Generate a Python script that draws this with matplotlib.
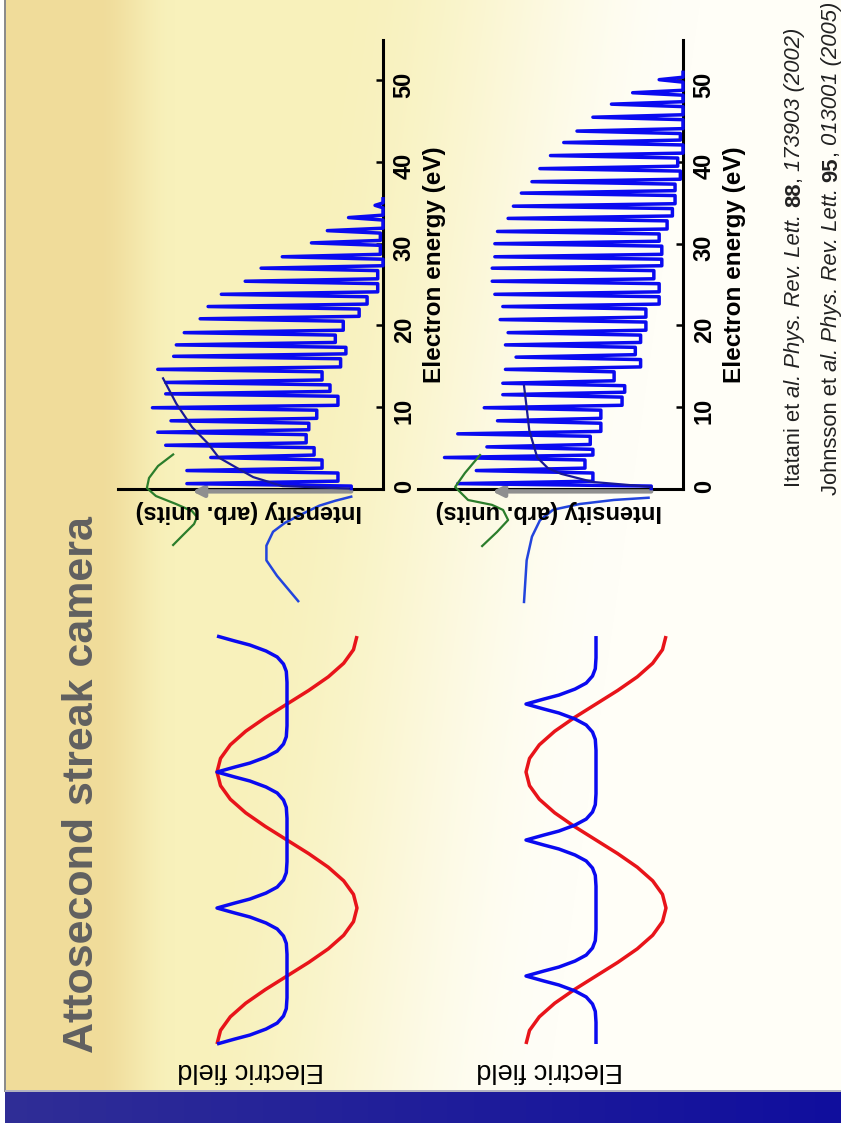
import numpy as np
import matplotlib
matplotlib.use("Agg")
import matplotlib.pyplot as plt

plt.rcParams['font.family'] = ['Liberation Sans', 'DejaVu Sans']

# ---------------- data ----------------
title = "Attosecond streak camera"
field_label = "Electric field"
intensity_label = "Intensity (arb. units)"
energy_label = "Electron energy (eV)"
energy_ticks = [0, 10, 20, 30, 40, 50]
# citations as (text, style, weight) pieces
cite1 = [("Itatani et ", "normal", "normal"), ("al. Phys. Rev. Lett. ", "italic", "normal"),
         ("88", "normal", "bold"), (", ", "normal", "normal"), ("173903 (2002)", "italic", "normal")]
cite2 = [("Johnsson et ", "normal", "normal"), ("al. Phys. Rev. Lett. ", "italic", "normal"),
         ("95", "normal", "bold"), (", ", "normal", "normal"), ("013001 (2005)", "italic", "normal")]

# streaking (IR) field, time in optical cycles, field normalised
ir_time = [0.00, 0.05, 0.10, 0.15, 0.20, 0.25, 0.30, 0.35, 0.40, 0.45, 0.50,
           0.55, 0.60, 0.65, 0.70, 0.75, 0.80, 0.85, 0.90, 0.95, 1.00,
           1.05, 1.10, 1.15, 1.20, 1.25, 1.30, 1.35, 1.40, 1.45, 1.50]
ir_field = [1.00, 0.95, 0.81, 0.59, 0.31, 0.00, -0.31, -0.59, -0.81, -0.95, -1.00,
            -0.95, -0.81, -0.59, -0.31, 0.00, 0.31, 0.59, 0.81, 0.95, 1.00,
            0.95, 0.81, 0.59, 0.31, 0.00, -0.31, -0.59, -0.81, -0.95, -1.00]
# attosecond pulse profile (offset from pulse centre in cycles, amplitude)
pulse_offset = [0.000, 0.018, 0.033, 0.055, 0.077, 0.103, 0.130, 0.170]
pulse_amp = [1.00, 0.75, 0.53, 0.30, 0.14, 0.05, 0.01, 0.00]
pulses_top = [0.0, 0.5, 1.0, 1.5]        # pulses at field crests
pulses_bottom = [0.25, 0.75, 1.25]       # pulses at field zero crossings

# top spectrum (energy eV, intensity arb. units)
top_start = (0.0, 12)
top_peak_E = [0.6, 2.2, 3.8, 5.3, 6.9, 8.3, 9.9, 11.6, 13.0, 14.6, 16.2, 17.6,
              19.1, 20.8, 22.3, 23.8, 25.4, 27.0, 28.4, 30.1, 31.6, 33.2, 34.7]
top_peak_I = [74, 74, 65, 82, 85, 80, 87, 82, 82, 85, 79, 78,
              75, 69, 66, 61, 52, 46, 38, 27, 21, 13, 3]
top_valley_E = [1.5, 2.9, 4.5, 6.2, 7.8, 9.2, 10.5, 12.3, 13.8, 15.3, 16.9,
                18.4, 19.9, 21.5, 23.0, 24.6, 26.3, 27.7, 29.4, 30.8, 32.5, 33.8]
top_valley_I = [17, 23, 26, 29, 28, 25, 17, 20, 23, 16, 14,
                18, 15, 9, 6, 2, 2, 0, 1, 1, 0, 0]
top_end = (35.5, 0)

# bottom spectrum
bot_start = (0.0, 12)
bot_peak_E = [0.6, 2.2, 3.8, 5.1, 6.7, 8.3, 9.9, 11.5, 12.9, 14.6, 16.1, 17.6,
              19.1, 20.7, 22.3, 23.8, 25.4, 27.0, 28.4, 30.0, 31.5, 33.1, 34.6,
              36.2, 37.6, 39.2, 40.8, 42.4, 43.8, 45.5, 47.1, 48.5, 50.1]
bot_peak_I = [85, 78, 90, 74, 85, 70, 75, 68, 68, 67, 63, 67,
              66, 69, 68, 71, 72, 72, 71, 71, 70, 66, 64,
              61, 57, 54, 50, 45, 40, 34, 27, 19, 9]
bot_valley_E = [1.5, 2.9, 4.5, 6.0, 7.6, 9.2, 10.8, 12.2, 13.7, 15.3, 16.9,
                18.5, 20.0, 21.6, 23.0, 24.6, 26.1, 27.6, 29.2, 30.8, 32.2,
                33.8, 35.4, 36.9, 38.4, 40.0, 41.6, 43.1, 44.7, 46.3, 47.8, 49.3]
bot_valley_I = [34, 37, 34, 35, 31, 31, 23, 22, 26, 16, 18,
                16, 14, 14, 9, 9, 11, 8, 8, 9, 6,
                4, 3, 3, 1, 2, 0, 1, 0, 0, 0, 0]
bot_end = (51.0, 0)

# smooth electron-distribution curves (energy eV, intensity)
top_curve_in_E = [13.5, 10.4, 7.5, 5.5, 3.8, 2.5, 1.4, 0.3, 0.0]
top_curve_in_I = [83, 78, 72, 66, 62, 55, 49, 38, 13]
top_curve_out_E = [-1.0, -1.5, -2.1, -3.2, -4.2, -5.3, -7.0, -8.8, -10.7, -13.8]
top_curve_out_I = [12, 18, 24, 31, 37, 41.5, 44, 44, 40, 32]
bot_curve_in_E = [12.6, 9.9, 7.1, 3.8, 2.5, 1.8, 0.8, 0.2]
bot_curve_in_I = [60, 59, 58, 55, 51, 46, 34, 12]
bot_curve_out_E = [-1.13, -1.4, -1.9, -2.6, -3.9, -5.9, -8.8, -13.9]
bot_curve_out_I = [13, 26, 39, 49, 54, 57, 59, 60]

# green (XUV) curves
top_green_E = [4.17, 2.76, 1.29, 0.06, -0.92, -1.9, -2.76, -3.49, -4.35, -5.58, -6.92]
top_green_I = [79.2, 84.9, 88.3, 89.1, 85.7, 78.1, 72.1, 70.2, 71.3, 75.1, 79.2]
bot_green_E = [4.1, 1.9, 0.18, -1.41, -2.0, -2.63, -3.86, -5.33, -7.05]
bot_green_I = [76.6, 82.3, 86.0, 81.1, 72.1, 67.9, 66.0, 70.2, 75.8]

# grey arrow along intensity axis (from, to) in intensity units, energy
arrow_I = (12, 72)
arrow_E = -0.35

# ---------------- figure ----------------
W, H = 841, 1123
fig = plt.figure(figsize=(W / 100, H / 100), dpi=100)
SPIKE_HW = 0.3   # half width of a drawn spike (eV), style only


def px_axes(x0, y0, x1, y1, z=1):
    return fig.add_axes([x0 / W, 1 - y1 / H, (x1 - x0) / W, (y1 - y0) / H], zorder=z)


def fx(x):
    return x / W


def fy(y):
    return 1 - y / H


def smooth(v):
    v = np.clip(v, 0, 1)
    return v * v * (3 - 2 * v)


# background
bg = px_axes(0, 0, W, H, z=0)
yy, xx = np.mgrid[0:H, 0:W].astype(float)
tan = np.array([240, 220, 154]) / 255
yel = np.array([248, 241, 187]) / 255
wht = np.array([255, 254, 247]) / 255
s = xx + 0.14 * yy
a = smooth((s - 330) / 370)[..., None]
base = yel * (1 - a) + wht * a
b = smooth((xx - 95) / 80)[..., None]
img = tan * (1 - b) + base * b
img[:, :5] = 1.0
img[:, 4:6] = np.array([0.55, 0.55, 0.55])
bar_l = np.array([48, 46, 150]) / 255
bar_r = np.array([16, 14, 158]) / 255
t = (xx[1092:, :] / W)[..., None]
img[1092:, :] = bar_l * (1 - t) + bar_r * t
img[1090:1092, 5:] = np.array([0.7, 0.7, 0.75])
img[1092:, :5] = 1.0
bg.imshow(img, extent=[0, W, H, 0], aspect='auto', interpolation='bilinear')
bg.set_xlim(0, W)
bg.set_ylim(H, 0)
bg.axis('off')

RED = '#e8141a'
BLUE = '#0a0af0'


def pulse_train(centres, t0, t1):
    pts = {}
    for c in centres:
        for o, v in zip(pulse_offset, pulse_amp):
            for tt in (c - o, c + o):
                if t0 - 1e-9 <= tt <= t1 + 1e-9:
                    k = round(tt, 4)
                    pts[k] = max(v, pts.get(k, 0))
    if min(pts) > t0:
        pts[t0] = 0.0
    if max(pts) < t1:
        pts[t1] = 0.0
    ts = sorted(pts)
    return ts, [pts[k] for k in ts]


def field_axes(cx, centres):
    ax = px_axes(cx - 87, 620, cx + 87, 1060, z=2)
    ax.set_xlim(1.243, -1.243)
    ax.set_ylim(-0.0588, 1.559)
    ax.axis('off')
    ax.plot(ir_field, ir_time, color=RED, lw=2.5, solid_capstyle='butt')
    ts, vs = pulse_train(centres, 0.0, 1.5)
    ax.plot(vs, ts, color=BLUE, lw=2.5, solid_capstyle='butt')
    return ax


field_axes(287, pulses_top)
field_axes(596, pulses_bottom)


def build(start, pE, pI, vE, vI, end):
    levels = [start[1]] + list(vI) + [end[1]]
    E = [start[0]]
    I = [start[1]]
    for k in range(len(pE)):
        E += [pE[k] - SPIKE_HW, pE[k], pE[k] + SPIKE_HW]
        I += [levels[k], pI[k], levels[k + 1]]
        if k < len(vE):
            E.append(vE[k]); I.append(vI[k])
    E.append(end[0]); I.append(end[1])
    return E, I


def spectrum_axes(x0, spec, cin, cout, green):
    ax = px_axes(x0 - 283, 25, x0 + 17, 615, z=3)
    ax.set_xlim(106.8, -6.415)
    ax.set_ylim(-15.5, 56.8)
    ax.patch.set_visible(False)
    ax.spines['top'].set_visible(False)
    ax.spines['left'].set_visible(False)
    ax.spines['right'].set_position(('data', 0))
    ax.spines['right'].set_bounds(0, 55)
    ax.spines['bottom'].set_position(('data', 0))
    ax.spines['bottom'].set_bounds(0, 100)
    for sp in ('right', 'bottom'):
        ax.spines[sp].set_linewidth(2.2)
        ax.spines[sp].set_zorder(1)
    ax.xaxis.set_visible(False)
    ax.yaxis.tick_right()
    ax.set_yticks(energy_ticks)
    ax.set_yticklabels([str(v) for v in energy_ticks], fontweight='bold')
    ax.tick_params(axis='y', direction='in', length=5, width=1.8,
                   labelsize=17, pad=7, labelrotation=90)
    E, I = build(*spec)
    ax.plot(I, E, color=BLUE, lw=2.5, zorder=3)
    ax.plot(cin[1], cin[0], color='#18189a', lw=1.6, zorder=4)
    ax.plot(cout[1], cout[0], color='#2244dd', lw=1.8, zorder=4)
    ax.plot(green[1], green[0], color='#2b7d2b', lw=1.6, zorder=4)
    ax.annotate('', xy=(arrow_I[1], arrow_E), xytext=(arrow_I[0], arrow_E),
                arrowprops=dict(arrowstyle='-|>', color='#8f8f8f', lw=3.2,
                                mutation_scale=16, shrinkA=0, shrinkB=0),
                zorder=2)
    return ax


spectrum_axes(383,
              (top_start, top_peak_E, top_peak_I, top_valley_E, top_valley_I, top_end),
              (top_curve_in_E, top_curve_in_I), (top_curve_out_E, top_curve_out_I),
              (top_green_E, top_green_I))
spectrum_axes(683,
              (bot_start, bot_peak_E, bot_peak_I, bot_valley_E, bot_valley_I, bot_end),
              (bot_curve_in_E, bot_curve_in_I), (bot_curve_out_E, bot_curve_out_I),
              (bot_green_E, bot_green_I))

# texts
fig.text(fx(93), fy(1053), title, rotation=90, rotation_mode='anchor',
         ha='left', va='baseline', fontsize=31, fontweight='bold', color='#606060', zorder=5)
for xa in (324, 623):
    fig.text(fx(xa), fy(1063), field_label, rotation=180, rotation_mode='anchor',
             ha='left', va='baseline', fontsize=19.5, color='black', zorder=5)
for xa in (362, 662):
    fig.text(fx(xa), fy(505), intensity_label, rotation=180, rotation_mode='anchor',
             ha='left', va='baseline', fontsize=17, fontweight='bold', color='black', zorder=5)
for xa in (441, 741):
    fig.text(fx(xa), fy(383), energy_label, rotation=90, rotation_mode='anchor',
             ha='left', va='baseline', fontsize=17.5, fontweight='bold', color='black', zorder=5)

renderer = fig.canvas.get_renderer()


def seg_width(txt, size, style, weight):
    def w(s_):
        tt = fig.text(0, 0, s_, fontsize=size, fontstyle=style, fontweight=weight)
        ww = tt.get_window_extent(renderer).width
        tt.remove()
        return ww
    return w(txt + "|") - w("|")


def rotated_citation(pieces, xb, ystart, size):
    cum = 0.0
    for txt, style, weight in pieces:
        fig.text(fx(xb), fy(ystart - cum), txt, rotation=90, rotation_mode='anchor',
                 ha='left', va='baseline', fontsize=size, fontstyle=style,
                 fontweight=weight, color='#222222', zorder=5)
        cum += seg_width(txt, size, style, weight)


rotated_citation(cite1, 800, 487, 15.8)
rotated_citation(cite2, 837, 495, 15.8)

fig.savefig('out.png', dpi=100)
